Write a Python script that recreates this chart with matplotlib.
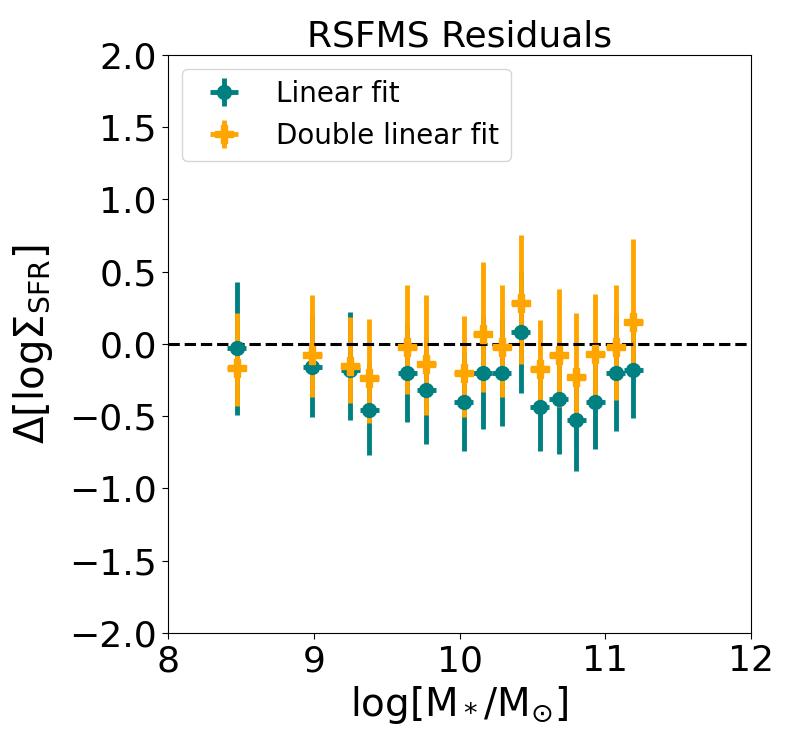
import numpy as np
import matplotlib
matplotlib.use("Agg")
import matplotlib.pyplot as plt

# stellar mass bins (log M*/Msun)
mass = [8.47, 8.99, 9.25, 9.38, 9.64, 9.77, 10.03, 10.16, 10.29, 10.42,
        10.55, 10.68, 10.80, 10.93, 11.07, 11.19]
mass_err = 0.065

# linear fit residuals: median, upper and lower limits
lin_med = [-0.03, -0.16, -0.18, -0.455, -0.20, -0.32, -0.40, -0.20, -0.20, 0.085,
           -0.435, -0.385, -0.525, -0.40, -0.20, -0.18]
lin_hi = [0.43, 0.20, 0.22, -0.13, 0.14, 0.05, -0.06, 0.20, 0.17, 0.50,
          -0.13, -0.01, -0.17, -0.07, 0.20, 0.15]
lin_lo = [-0.49, -0.505, -0.53, -0.77, -0.54, -0.69, -0.74, -0.59, -0.57, -0.34,
          -0.74, -0.76, -0.88, -0.73, -0.60, -0.51]

# double linear fit residuals
dbl_med = [-0.165, -0.08, -0.155, -0.24, -0.025, -0.14, -0.20, 0.065, -0.025, 0.28,
           -0.175, -0.08, -0.23, -0.07, -0.025, 0.15]
dbl_hi = [0.215, 0.335, 0.185, 0.17, 0.41, 0.335, 0.19, 0.565, 0.41, 0.755,
          0.165, 0.38, 0.21, 0.345, 0.405, 0.725]
dbl_lo = [-0.43, -0.365, -0.41, -0.545, -0.345, -0.49, -0.505, -0.335, -0.365, -0.14,
          -0.39, -0.435, -0.48, -0.365, -0.39, -0.14]

lin_med = np.array(lin_med)
dbl_med = np.array(dbl_med)
lin_yerr = [lin_med - np.array(lin_lo), np.array(lin_hi) - lin_med]
dbl_yerr = [dbl_med - np.array(dbl_lo), np.array(dbl_hi) - dbl_med]

fig = plt.figure(figsize=(7.89, 7.49), dpi=100)
ax = fig.add_axes([0.213, 0.155, 0.739, 0.772])

ax.errorbar(mass, lin_med, xerr=mass_err, yerr=lin_yerr, fmt='o', color='teal',
            ms=10, elinewidth=3.5, label='Linear fit')
ax.errorbar(mass, dbl_med, xerr=mass_err, yerr=dbl_yerr, fmt='P', color='orange',
            ms=13, elinewidth=3.5, label='Double linear fit')
ax.axhline(0, color='k', ls='--', lw=2.2)

ax.set_xlim(8, 12)
ax.set_ylim(-2, 2)
ax.set_xticks([8, 9, 10, 11, 12])
ax.set_yticks(np.arange(-2, 2.01, 0.5))
ax.tick_params(labelsize=26, length=4.5)
ax.set_title('RSFMS Residuals', fontsize=26)
ax.set_xlabel(r'$\mathrm{log[M_*/M_{\odot}]}$', fontsize=28)
ax.set_ylabel(r'$\Delta[\mathrm{log}\Sigma_{\rm SFR}]$', fontsize=29, labelpad=10)
ax.legend(loc='upper left', fontsize=20, handlelength=2.2)

fig.savefig('out.png', dpi=100)
